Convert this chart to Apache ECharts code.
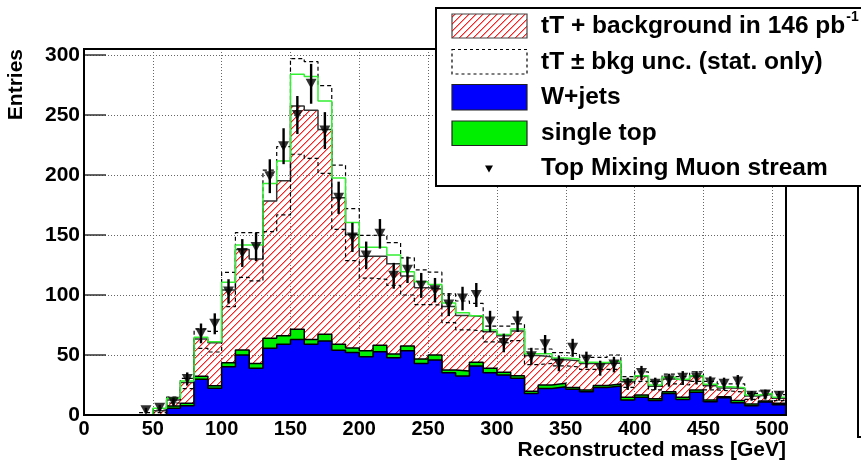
<!DOCTYPE html>
<html>
<head>
<meta charset="utf-8">
<script src="https://cdn.jsdelivr.net/npm/echarts@6/dist/echarts.min.js"></script>
<style>
  html, body { margin: 0; padding: 0; background: #fff; }
  #chart { width: 861px; height: 462px; }
</style>
</head>
<body>
<div id="chart"></div>
<script>
// Reconstructed top mass, 10 GeV bins from 0 to 510 GeV
const binWidth = 10;
const binLowEdges = [0, 10, 20, 30, 40, 50, 60, 70, 80, 90, 100, 110, 120, 130, 140, 150, 160, 170, 180, 190,
  200, 210, 220, 230, 240, 250, 260, 270, 280, 290, 300, 310, 320, 330, 340, 350, 360, 370, 380, 390,
  400, 410, 420, 430, 440, 450, 460, 470, 480, 490, 500];

// W+jets (bottom of the stack)
const wJets = [0, 0, 0, 0, 0, 0, 5.6, 7.8, 29.7, 22.2, 40.3, 50, 39, 55.6, 59, 63, 59, 61.7, 54, 52,
  48.6, 52.8, 47.8, 53.6, 43, 45.8, 35.3, 32.5, 40.8, 35.3, 33.3, 30.6, 18, 22, 23.6, 21.4, 19.4, 23, 24.2, 12.5,
  14.7, 12, 18, 13, 19, 11, 14.4, 10.3, 7.8, 10.8, 8.5];

// single top, stacked on W+jets
const singleTop = [0, 0, 0, 0, 0, 0, 1.9, 1.9, 2.5, 2.2, 3.3, 4.2, 4, 8.3, 7, 8.4, 4, 5.5, 5, 3.8,
  4.9, 5.4, 3, 3.9, 3.7, 4.2, 2.2, 4.2, 3.1, 3.6, 2.3, 2.2, 1.8, 3, 2.8, 1.6, 1.4, 1.6, 1.6, 2.2,
  2, 1.5, 1.4, 1.7, 1.8, 1.5, 0.9, 1.7, 1.4, 0.9, 1.3];

// tT + background, full stack height (hatched)
const ttBkgTotal = [0, 0, 0, 0, 0.5, 3.6, 12.5, 27, 63.3, 60.3, 104.2, 138, 130, 178.3, 195.3, 257.5, 254, 238, 181, 150.5,
  132.3, 132.3, 126, 115.8, 106, 105, 90.5, 83, 82, 69.4, 66, 70, 49.5, 48.5, 46, 45.2, 43, 43, 43.3, 27.8,
  32, 24, 30, 28.6, 32, 24.4, 22.6, 22, 15.8, 17, 14];

// outer stack outline (green line)
const stackOutline = [0, 0, 0, 0, 0.5, 5.6, 13.9, 28.3, 64.7, 61, 110.6, 141.7, 141.7, 193, 211.7, 284, 282, 261.7, 197.5, 160.4,
  139.8, 139.8, 133.3, 119.4, 111.1, 108.7, 93.3, 85.3, 82.8, 70.8, 67, 71.6, 51, 51, 47.5, 46.6, 44, 43.8, 45, 29.1,
  32.8, 25, 31.4, 29.7, 32.8, 25.6, 23.6, 22.8, 16.7, 18, 14.7];

// tT +/- bkg uncertainty (stat. only): upper and lower edges
const uncHigh = [null, null, null, null, 2, 5, 15, 30.5, 71.7, 69.7, 118.9, 152, 152, 204, 223.6, 297, 294.4, 274.4, 208.3, 172,
  149.7, 150, 143.6, 131, 121, 119, 101, 95, 93, 74, 74, 76, 55, 55, 52, 51, 48, 48, 50, 32,
  36, 28, 34, 32, 36, 28, 26, 26, 18, 20, 17];
const uncLow = [null, null, null, null, 0, 2, 10, 22, 55.6, 52.5, 90.3, 114.7, 111.7, 152.8, 166.7, 217.3, 213.9, 201.4, 154.7, 128.6,
  114, 113, 108, 100, 92, 91.7, 77, 71, 70, 61, 60, 62, 42, 43, 41, 40, 38, 38, 38, 23,
  28, 21, 26, 25, 28, 21, 20, 19, 13, 15, 12];

// Top Mixing Muon stream: event counts per bin
const muonData = [null, null, null, null, 4, 6, 11, 30, 68, 76, 103, 135, 140, 199, 224, 250, 276, 237, 181, 148,
  133, 151, 116, 121, 108, 104, 92, 97, 100, 78, 60, 78, 49, 59, 43, 56, 46, 39, 42, 26,
  35, 26, 29, 31, 31, 27, 26, 28, 16, 17, 16];

const xTickValues = [0, 50, 100, 150, 200, 250, 300, 350, 400, 450, 500];
const yTickValues = [0, 50, 100, 150, 200, 250, 300];

const FONT = '"Liberation Sans", Arial, Helvetica, sans-serif';

// red diagonal hatch used for the tT + background fill, drawn pixel by pixel
function makeHatch() {
  const s = 7;
  const c = document.createElement('canvas');
  c.width = s; c.height = s;
  const g = c.getContext('2d');
  g.clearRect(0, 0, s, s);
  for (let i = 0; i < s; i++) {
    const y = s - 1 - i;
    g.fillStyle = 'rgb(255,30,30)';
    g.fillRect(i, y, 1, 1);
    g.fillStyle = 'rgba(255,110,110,0.7)';
    g.fillRect((i + 1) % s, y, 1, 1);
  }
  return c;
}
const hatch = { image: makeHatch(), repeat: 'repeat' };

// histogram as step points: one point per bin low edge plus the closing edge
function stepPoints(values) {
  const pts = values.map((v, i) => [binLowEdges[i], v]);
  pts.push([binLowEdges[binLowEdges.length - 1] + binWidth, values[values.length - 1]]);
  return pts;
}

const greenTop = wJets.map((v, i) => v + singleTop[i]);
const dataPoints = [];
muonData.forEach((n, i) => {
  if (n !== null) dataPoints.push([binLowEdges[i] + binWidth / 2, n]);
});

function histSeries(name, values, z, line, area) {
  const s = {
    name, type: 'line', step: 'end', data: stepPoints(values), z,
    symbol: 'none', showSymbol: false, silent: true, animation: false,
    lineStyle: line, connectNulls: false
  };
  if (area) s.areaStyle = { color: area, opacity: 1 };
  return s;
}

const chart = echarts.init(document.getElementById('chart'), null, { renderer: 'canvas' });

// measure legend title to place the superscript after it
const measure = document.createElement('canvas').getContext('2d');
const legendFont = 'bold 24.5px ' + FONT;
measure.font = legendFont;
const legendX = 541;
const firstLabel = 'tT + background in 146 pb';
const supX = legendX + measure.measureText(firstLabel).width + 1;

const legendRows = [26.5, 62, 97.5, 133, 168.5];

chart.setOption({
  animation: false,
  grid: { left: 84, top: 49, width: 702, height: 366, show: false },
  xAxis: {
    type: 'value', min: 0, max: 510, interval: 50,
    axisLine: { show: false },
    axisTick: { show: false },
    axisLabel: {
      color: '#000', fontFamily: FONT, fontWeight: 'bold', fontSize: 20, margin: 4,
      formatter: v => (xTickValues.indexOf(v) >= 0 ? String(v) : '')
    },
    splitLine: { show: true, lineStyle: { color: '#666', type: [1, 2], width: 1 } }
  },
  yAxis: {
    type: 'value', min: 0, max: 305, interval: 50,
    axisLine: { show: false },
    axisTick: { show: true, inside: true, length: 22, lineStyle: { color: '#333', width: 1.5 } },
    axisLabel: {
      color: '#000', fontFamily: FONT, fontWeight: 'bold', fontSize: 21, margin: 4,
      formatter: v => (yTickValues.indexOf(v) >= 0 ? String(v) : '')
    },
    splitLine: { show: true, lineStyle: { color: '#666', type: [1, 2], width: 1 } }
  },
  series: [
    histSeries('tT + background', ttBkgTotal, 2, { color: '#333', width: 1.5 }, hatch),
    histSeries('single top', greenTop, 3, { color: '#000', width: 1.5 }, '#00ee00'),
    histSeries('W+jets', wJets, 4, { color: '#000', width: 1.5 }, '#0000ff'),
    histSeries('unc high', uncHigh, 5, { color: '#000', width: 1.2, type: [4, 3] }),
    histSeries('unc low', uncLow, 5, { color: '#000', width: 1.2, type: [4, 3] }),
    histSeries('stack outline', stackOutline, 6, { color: '#33f033', width: 1.5 }),
    {
      // Poisson error bars on the muon stream counts
      name: 'errors', type: 'custom', z: 7, silent: true, animation: false,
      data: dataPoints,
      renderItem: (params, api) => {
        const x = api.value(0), n = api.value(1);
        const e = Math.sqrt(n);
        const a = api.coord([x, n - e]);
        const b = api.coord([x, n + e]);
        return {
          type: 'line',
          shape: { x1: a[0], y1: a[1], x2: b[0], y2: b[1] },
          style: { stroke: '#000', lineWidth: 2.4 }
        };
      }
    },
    {
      name: 'Top Mixing Muon stream', type: 'scatter', z: 8, silent: true, animation: false,
      data: dataPoints, symbol: 'triangle', symbolRotate: 180, symbolSize: [11, 10],
      itemStyle: { color: '#000' }
    }
  ],
  graphic: [
    // plot frame
    { type: 'rect', z: 50, silent: true,
      shape: { x: 84, y: 49, width: 702, height: 366 },
      style: { fill: 'none', stroke: '#000', lineWidth: 2 } },
    // neighbouring pad edge
    { type: 'rect', z: 50, silent: true,
      shape: { x: 858, y: 150, width: 30, height: 287 },
      style: { fill: 'none', stroke: '#000', lineWidth: 2 } },
    // axis titles
    { type: 'text', z: 50, silent: true, x: 16, y: 49, rotation: Math.PI / 2,
      style: { text: 'Entries', font: 'bold 21px ' + FONT, fill: '#000', align: 'right', verticalAlign: 'middle' } },
    { type: 'text', z: 50, silent: true, x: 786, y: 450,
      style: { text: 'Reconstructed mass [GeV]', font: 'bold 21px ' + FONT, fill: '#000', align: 'right', verticalAlign: 'middle' } },
    // legend box
    { type: 'rect', z: 60, silent: true,
      shape: { x: 436, y: 8, width: 450, height: 178 },
      style: { fill: '#fff', stroke: '#000', lineWidth: 2 } },
    { type: 'rect', z: 61, silent: true,
      shape: { x: 452, y: 14, width: 75, height: 24 },
      style: { fill: hatch, stroke: '#444', lineWidth: 1.2 } },
    { type: 'rect', z: 61, silent: true,
      shape: { x: 452, y: 49.5, width: 75, height: 24.5 },
      style: { fill: 'none', stroke: '#000', lineWidth: 1.2, lineDash: [3, 3] } },
    { type: 'rect', z: 61, silent: true,
      shape: { x: 452, y: 84.5, width: 75, height: 25.5 },
      style: { fill: '#0000ff', stroke: '#222', lineWidth: 1.2 } },
    { type: 'rect', z: 61, silent: true,
      shape: { x: 452, y: 121, width: 75, height: 24.5 },
      style: { fill: '#00ee00', stroke: '#222', lineWidth: 1.2 } },
    { type: 'polygon', z: 61, silent: true,
      shape: { points: [[485, 165.5], [493, 165.5], [489, 172.5]] },
      style: { fill: '#000' } },
    { type: 'text', z: 62, silent: true, x: legendX, y: legendRows[0],
      style: { text: firstLabel, font: legendFont, fill: '#000', align: 'left', verticalAlign: 'middle' } },
    { type: 'text', z: 62, silent: true, x: supX, y: legendRows[0] - 9,
      style: { text: '-1', font: 'bold 14px ' + FONT, fill: '#000', align: 'left', verticalAlign: 'middle' } },
    { type: 'text', z: 62, silent: true, x: legendX, y: legendRows[1],
      style: { text: 'tT \u00b1 bkg unc. (stat. only)', font: legendFont, fill: '#000', align: 'left', verticalAlign: 'middle' } },
    { type: 'text', z: 62, silent: true, x: legendX, y: legendRows[2],
      style: { text: 'W+jets', font: legendFont, fill: '#000', align: 'left', verticalAlign: 'middle' } },
    { type: 'text', z: 62, silent: true, x: legendX, y: legendRows[3],
      style: { text: 'single top', font: legendFont, fill: '#000', align: 'left', verticalAlign: 'middle' } },
    { type: 'text', z: 62, silent: true, x: legendX, y: legendRows[4],
      style: { text: 'Top Mixing Muon stream', font: legendFont, fill: '#000', align: 'left', verticalAlign: 'middle' } }
  ]
});
</script>
</body>
</html>
